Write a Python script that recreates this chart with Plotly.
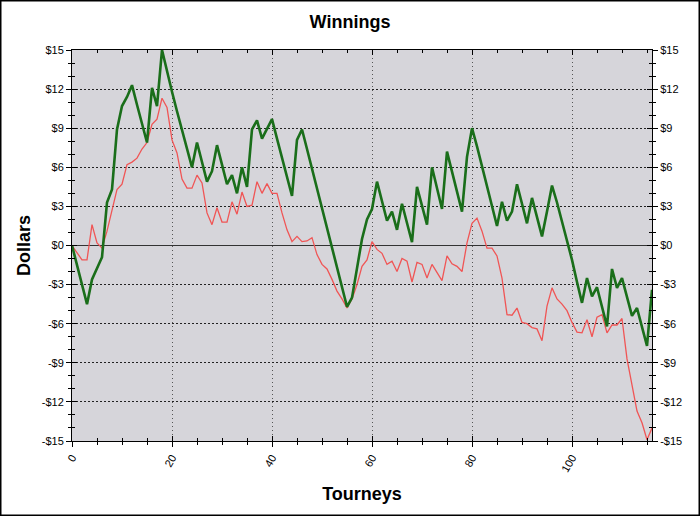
import plotly.graph_objects as go

tourneys = list(range(117))

total_winnings = [0, -1.5, -3.0, -4.5, -2.6, -1.8, -0.9, 3.3, 4.3, 8.9,
                  10.7, 11.4, 12.3, 10.8, 9.4, 7.9, 12.1, 10.7, 15.0, 13.3,
                  11.8, 10.3, 8.9, 7.4, 6.0, 7.9, 6.4, 4.9, 5.7, 7.7,
                  6.2, 4.7, 5.4, 4.0, 6.0, 4.5, 8.9, 9.6, 8.2, 8.9,
                  9.7, 8.2, 6.7, 5.2, 3.8, 8.1, 8.9, 7.4, 5.9, 4.4,
                  2.9, 1.3, -0.2, -1.7, -3.2, -4.7, -4.0, -1.8, 0.5, 2.0,
                  2.8, 4.9, 3.4, 1.9, 2.6, 1.2, 3.2, 1.7, 0.25, 4.5,
                  3.0, 1.6, 6.0, 4.4, 2.8, 7.2, 5.7, 4.1, 2.6, 6.8,
                  9.0, 7.6, 6.1, 4.5, 3.0, 1.5, 3.35, 1.9, 2.6, 4.7,
                  3.2, 1.7, 3.65, 2.2, 0.7, 2.6, 4.6, 3.3, 1.9, 0.5,
                  -1.1, -2.8, -4.4, -2.5, -3.9, -3.2, -4.6, -6.2, -1.8, -3.25,
                  -2.5, -3.9, -5.4, -4.8, -6.2, -7.7, -3.4]

other_winnings = [0, -0.6, -1.1, -1.1, 1.6, 0.2, -0.2, 1.1, 2.8, 4.3,
                  4.7, 6.2, 6.4, 6.7, 7.4, 7.9, 9.3, 9.7, 11.3, 10.6,
                  8.1, 7.1, 5.1, 4.4, 4.4, 5.4, 4.8, 2.5, 1.6, 2.9,
                  1.8, 1.8, 3.35, 2.4, 4.1, 3.0, 3.1, 4.9, 4.0, 4.75,
                  4.0, 4.0, 2.5, 1.2, 0.3, 0.7, 0.3, 0.35, 0.6, -0.7,
                  -1.45, -1.8, -2.6, -3.5, -4.1, -4.8, -4.1, -3.0, -1.6, -1.1,
                  0.3, -0.3, -0.6, -1.45, -1.2, -2.0, -1.0, -1.2, -2.8, -1.3,
                  -1.45, -2.5, -1.45, -2.1, -2.7, -0.8, -1.4, -1.6, -2.0, 0.2,
                  1.7, 2.1, 1.1, -0.2, -0.2, -0.8, -2.5, -5.3, -5.35, -4.8,
                  -5.9, -6.0, -6.3, -6.4, -7.3, -4.65, -3.25, -4.1, -4.5, -5.0,
                  -5.9, -6.65, -6.7, -5.7, -7.0, -5.5, -5.3, -6.7, -6.1, -6.1,
                  -5.6, -8.7, -10.8, -12.7, -13.6, -14.9, -14.0]

x_tick_vals = [0, 20, 40, 60, 80, 100]
x_tick_text = ["0", "20", "40", "60", "80", "100"]
y_tick_vals = [15, 12, 9, 6, 3, 0, -3, -6, -9, -12, -15]
y_tick_text = ["$15", "$12", "$9", "$6", "$3", "$0", "-$3", "-$6", "-$9", "-$12", "-$15"]

FONT = "Liberation Sans, Arial, sans-serif"
W, H = 700, 516
L, R, T, B = 72, 48, 50, 75
XR = [0, 116]
YR = [-15, 15]

fig = go.Figure()
fig.add_trace(go.Scatter(x=tourneys, y=other_winnings, mode="lines",
                         line=dict(color="#f05555", width=1.3), hoverinfo="skip"))
fig.add_trace(go.Scatter(x=tourneys, y=total_winnings, mode="lines",
                         line=dict(color="#1a6e1a", width=2.6), hoverinfo="skip"))
# invisible traces to activate helper axes
fig.add_trace(go.Scatter(x=[None], y=[None], xaxis="x2", yaxis="y3", showlegend=False))
fig.add_trace(go.Scatter(x=[None], y=[None], xaxis="x", yaxis="y2", showlegend=False))

tickfont = dict(family=FONT, size=11, color="#000")

fig.update_layout(
    width=W, height=H,
    margin=dict(l=L, r=R, t=T, b=B, pad=0),
    paper_bgcolor="white",
    plot_bgcolor="#d6d5da",
    showlegend=False,
    title=dict(text="<b>Winnings</b>", x=0.5, xref="container", xanchor="center",
               y=1 - 22 / H, yref="container", yanchor="middle",
               font=dict(family=FONT, size=18, color="#000")),
    xaxis=dict(range=XR, tickvals=x_tick_vals, ticktext=x_tick_text, tickangle=-60,
               ticks="outside", ticklen=5, tickcolor="#000", tickfont=tickfont,
               showline=True, linecolor="#000", linewidth=1, mirror=True,
               showgrid=True, gridcolor="#555", griddash="1px,3px", gridwidth=1,
               zeroline=False,
               minor=dict(dtick=5, tick0=0, ticks="outside", ticklen=3, tickcolor="#000", showgrid=False),
               title=dict(text="<b>Tourneys</b>", font=dict(family=FONT, size=18, color="#000"), standoff=14)),
    xaxis2=dict(range=XR, overlaying="x", side="bottom", tickvals=x_tick_vals,
                ticks="inside", ticklen=5, tickcolor="#000", showticklabels=False,
                showline=False, mirror="ticks", showgrid=False, zeroline=False,
                minor=dict(dtick=5, tick0=0, ticks="inside", ticklen=3, tickcolor="#000", showgrid=False)),
    yaxis=dict(range=YR, tickvals=y_tick_vals, ticktext=y_tick_text,
               ticks="outside", ticklen=5, tickcolor="#000", tickfont=tickfont,
               showline=True, linecolor="#000", linewidth=1, mirror=True,
               showgrid=True, gridcolor="#222", griddash="2px,2px", gridwidth=1,
               zeroline=True, zerolinecolor="#333", zerolinewidth=1,
               minor=dict(dtick=1, tick0=0, ticks="outside", ticklen=3, tickcolor="#000", showgrid=False),
               title=dict(text="<b>Dollars</b>", font=dict(family=FONT, size=18, color="#000"), standoff=6)),
    yaxis2=dict(range=YR, overlaying="y", side="right", tickvals=y_tick_vals, ticktext=y_tick_text,
                ticks="outside", ticklen=5, tickcolor="#000", tickfont=tickfont,
                showline=False, showgrid=False, zeroline=False,
                minor=dict(dtick=1, tick0=0, ticks="outside", ticklen=3, tickcolor="#000", showgrid=False)),
    yaxis3=dict(range=YR, overlaying="y", side="left", tickvals=y_tick_vals,
                ticks="inside", ticklen=5, tickcolor="#000", showticklabels=False,
                showline=False, mirror="ticks", showgrid=False, zeroline=False,
                minor=dict(dtick=1, tick0=0, ticks="inside", ticklen=3, tickcolor="#000", showgrid=False)),
)

pw, ph = W - L - R, H - T - B
fig.add_shape(type="rect", xref="paper", yref="paper",
              x0=(0.75 - L) / pw, x1=(W - 0.75 - L) / pw,
              y0=(H - B - (H - 0.75)) / ph, y1=(H - B - 0.75) / ph,
              line=dict(color="#000", width=1.5), fillcolor="rgba(0,0,0,0)", layer="above")

fig.write_html("out.html", config={"displayModeBar": False, "staticPlot": True},
               post_script="document.body.style.margin='0';document.body.style.overflow='hidden';")
